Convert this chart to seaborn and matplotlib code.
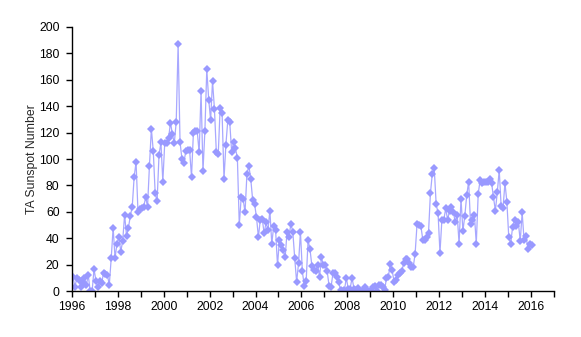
import numpy as np
import pandas as pd
import matplotlib
matplotlib.use("Agg")
import matplotlib.pyplot as plt
from matplotlib.ticker import MultipleLocator
import seaborn as sns

# Monthly TA sunspot numbers, January 1996 onward
start_year = 1996
sunspots = [
    10.8, 3, 10, 8.8, 3, 6.3, 10, 5, 12, 0, 0, 16.6,
    8, 3, 8, 6, 14, 13, 12, 5, 25, 48, 25, 36,
    41, 30, 38, 58, 42, 48, 57, 64, 86.6, 97.7, 60, 62,
    63, 64, 71, 64, 95, 123, 106, 74, 68, 103, 112.6, 83,
    112, 112, 116, 127.5, 119, 112, 128, 187, 113, 100, 97, 106,
    107, 107, 86.6, 120, 121, 121, 105, 151.5, 90.7, 121, 168, 145,
    129.5, 159, 138, 105, 104, 139, 135, 85, 111, 129.5, 128, 105.5,
    113, 108, 101, 50, 71, 70, 59.6, 88.6, 95, 85, 69, 66,
    56, 41, 54, 55, 43.7, 52, 46, 61, 36, 49, 46, 19.5,
    39, 35, 31, 25.5, 45, 41, 51, 45, 25, 7, 21, 45,
    15, 4, 8, 38.6, 31.6, 19, 16, 15, 19.7, 11, 25.5, 19.7,
    19.7, 15, 3.8, 3, 13.4, 13.4, 11, 7, 0.7, 0, 0.7, 10,
    2, 2, 10, 2, 1, 2.5, 0, 0, 1, 3, 0, 0,
    0, 3, 3.8, 0, 4.5, 4.5, 2.8, 0.7, 9.6, 11, 20.5, 15.7,
    7, 8.6, 12.5, 13.4, 15, 21, 24, 24, 21.7, 18, 18, 28.5,
    50.7, 50, 49.5, 39, 38.5, 41, 44, 74, 89, 93, 66, 59,
    29, 54, 54, 62.6, 54, 61, 64, 60, 52, 58, 36, 70,
    45.7, 57, 72.7, 83, 50.7, 54, 58, 36, 73.5, 84, 81.6, 83,
    83, 83, 84.6, 82, 71, 61, 75, 91.7, 64.4, 63, 82, 67.7,
    40.7, 36, 48.7, 54, 49, 52, 38, 59.6, 38.6, 42, 32, 35.6,
    34.8,
]

year_ticks = list(range(1996, 2018, 2))
y_ticks = list(range(0, 201, 20))
line_color = "#9999FF"

df = pd.DataFrame({
    "year": start_year + (np.arange(len(sunspots)) + 0.5) / 12.0,
    "ssn": sunspots,
})

sns.set_style("ticks")
plt.rcParams["font.family"] = ["Liberation Sans", "DejaVu Sans"]

fig = plt.figure(figsize=(5.81, 3.37), dpi=100)
ax = fig.add_axes([0.124, 0.136, 0.829, 0.784])

sns.lineplot(data=df, x="year", y="ssn", ax=ax, color="#A8A8FF",
             linewidth=0.9, marker="D", markersize=4.0,
             markeredgewidth=0, markerfacecolor=line_color)

ax.set_xlim(1996, 2017)
ax.set_ylim(0, 200)
ax.set_xticks(year_ticks)
ax.set_xticklabels([str(y) for y in year_ticks])
ax.xaxis.set_minor_locator(MultipleLocator(1))
ax.set_yticks(y_ticks)

ax.set_xlabel("")
ax.set_ylabel("TA Sunspot Number", fontsize=8.8, labelpad=1)

for side in ("top", "right"):
    ax.spines[side].set_visible(False)
for side in ("left", "bottom"):
    ax.spines[side].set_color("black")
    ax.spines[side].set_linewidth(1.0)

ax.tick_params(axis="both", which="major", direction="out", length=4,
               width=1, colors="black", labelsize=8.8)
ax.tick_params(axis="y", pad=5)
ax.tick_params(axis="x", pad=3)
ax.tick_params(axis="x", which="minor", direction="out", length=4,
               width=1, colors="black")

fig.savefig("out.png", dpi=100, facecolor="white")
